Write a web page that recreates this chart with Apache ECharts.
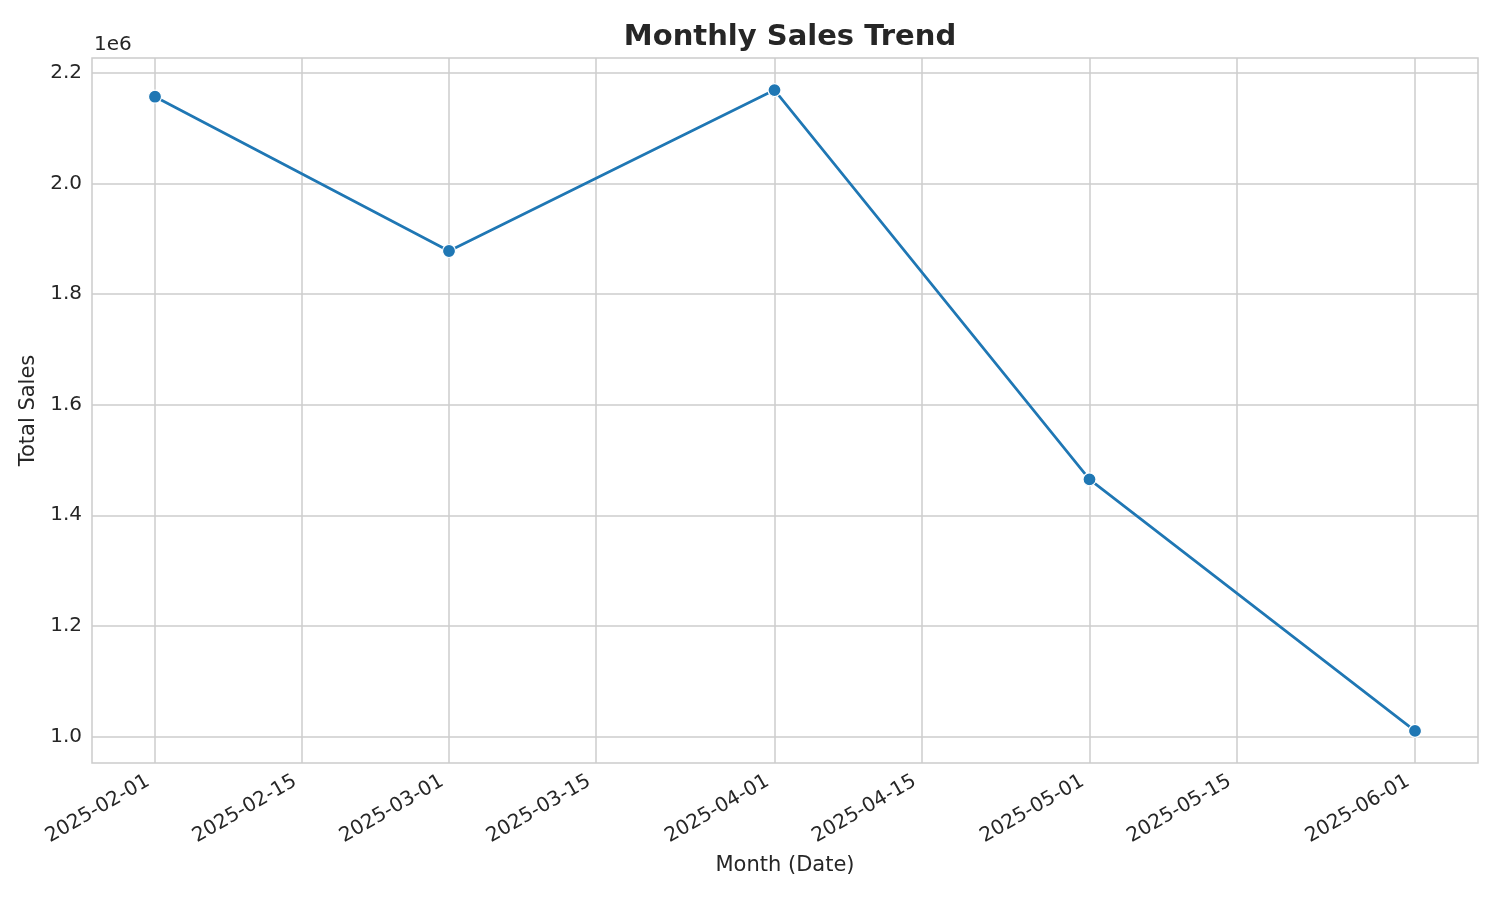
<!DOCTYPE html>
<html>
<head>
<meta charset="utf-8">
<title>Monthly Sales Trend</title>
<script src="https://cdn.jsdelivr.net/npm/echarts@6/dist/echarts.min.js"></script>
<style>
	html, body { margin: 0; padding: 0; background: #fff; }
	#chart { width: 1500px; height: 900px; }
</style>
</head>
<body>
<div id="chart"></div>
<script>
// 数据
var months = ['2025-02-01', '2025-03-01', '2025-04-01', '2025-05-01', '2025-06-01'];
var totalSales = [2157000, 1878000, 2169000, 1465000, 1010000];
var xTickDates = ['2025-02-01', '2025-02-15', '2025-03-01', '2025-03-15', '2025-04-01',
	'2025-04-15', '2025-05-01', '2025-05-15', '2025-06-01'];
var yTicks = [1000000, 1200000, 1400000, 1600000, 1800000, 2000000, 2200000];

function ts(s) {
	return new Date(s + 'T00:00:00Z').getTime();
}

function pad(n) {
	return n < 10 ? '0' + n : '' + n;
}

function fmtDate(v) {
	var d = new Date(v);
	return d.getUTCFullYear() + '-' + pad(d.getUTCMonth() + 1) + '-' + pad(d.getUTCDate());
}

var DAY = 86400000;
var xMin = ts(months[0]) - 6 * DAY;
var xMax = ts(months[months.length - 1]) + 6 * DAY;
var xTicks = xTickDates.map(ts);

var seriesData = [];
for (var i = 0; i < months.length; i++) {
	seriesData.push([ts(months[i]), totalSales[i]]);
}

var font = 'DejaVu Sans';
var textColor = '#262626';
var gridColor = '#cccccc';

var myChart = echarts.init(document.getElementById('chart'));
var option = {
	animation: false,
	backgroundColor: '#ffffff',
	textStyle: { fontFamily: font },
	title: [{
		text: 'Monthly Sales Trend',
		left: 785,
		top: 18,
		textAlign: 'center',
		textStyle: { fontFamily: font, fontSize: 29, fontWeight: 'bold', color: textColor }
	}, {
		text: '1e6',
		left: 89,
		top: 30,
		textStyle: { fontFamily: font, fontSize: 20, fontWeight: 'normal', color: textColor }
	}],
	grid: {
		left: 92,
		right: 22,
		top: 58,
		bottom: 137,
		containLabel: false,
		show: true,
		borderColor: gridColor,
		borderWidth: 1.5
	},
	xAxis: {
		type: 'value',
		min: xMin,
		max: xMax,
		name: 'Month (Date)',
		nameLocation: 'middle',
		nameGap: 92,
		nameTextStyle: { fontFamily: font, fontSize: 21, color: textColor },
		axisLine: { show: false },
		axisTick: { show: false, customValues: xTicks },
		axisLabel: {
			customValues: xTicks,
			rotate: 30,
			margin: 13,
			padding: [0, 8, 0, 0],
			fontFamily: font,
			fontSize: 20,
			color: textColor,
			formatter: function(v) {
				return fmtDate(v);
			}
		},
		splitLine: { show: true, lineStyle: { color: gridColor, width: 1.5 } }
	},
	yAxis: {
		type: 'value',
		min: 952000,
		max: 2227000,
		name: 'Total Sales',
		nameLocation: 'middle',
		nameGap: 52,
		nameTextStyle: { fontFamily: font, fontSize: 21, color: textColor },
		axisLine: { show: false },
		axisTick: { show: false, customValues: yTicks },
		axisLabel: {
			customValues: yTicks,
			margin: 10,
			fontFamily: font,
			fontSize: 20,
			color: textColor,
			formatter: function(v) {
				return (v / 1e6).toFixed(1);
			}
		},
		splitLine: { show: true, lineStyle: { color: gridColor, width: 1.5 } }
	},
	series: [{
		name: 'Total Sales',
		type: 'line',
		data: seriesData,
		symbol: 'circle',
		symbolSize: 13,
		lineStyle: { color: '#1f77b4', width: 2.7 },
		itemStyle: { color: '#1f77b4', borderColor: '#ffffff', borderWidth: 1.2 },
		z: 3
	}]
};
myChart.setOption(option);
window.onresize = function() {
	myChart.resize();
};
</script>
</body>
</html>
